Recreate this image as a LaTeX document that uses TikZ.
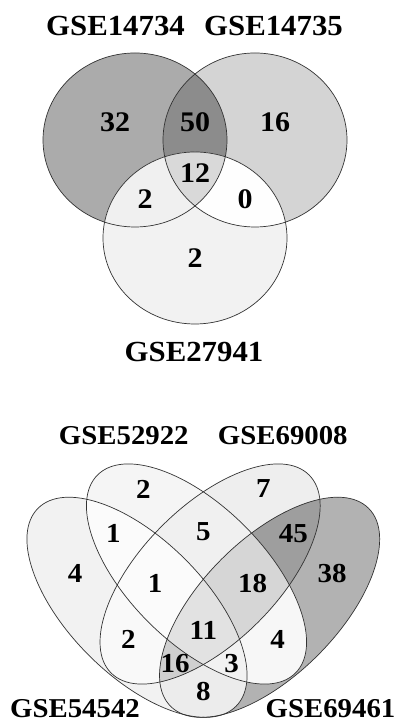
\documentclass[tikz,border=0pt]{standalone}
\usepackage{fontspec}
\setmainfont{Liberation Serif}

% region shades, top diagram
\definecolor{tA}{gray}{0.67}
\definecolor{tB}{gray}{0.83}
\definecolor{tC}{gray}{0.95}
\definecolor{tAB}{gray}{0.55}
\definecolor{tAC}{gray}{0.94}
\definecolor{tBC}{gray}{0.995}
\definecolor{tABC}{gray}{0.85}
% region shades, bottom diagram
\definecolor{qA}{gray}{0.95}
\definecolor{qB}{gray}{0.96}
\definecolor{qC}{gray}{0.935}
\definecolor{qD}{gray}{0.70}
\definecolor{qAB}{gray}{0.985}
\definecolor{qAC}{gray}{0.975}
\definecolor{qAD}{gray}{0.925}
\definecolor{qBC}{gray}{0.94}
\definecolor{qBD}{gray}{0.97}
\definecolor{qCD}{gray}{0.62}
\definecolor{qABC}{gray}{0.985}
\definecolor{qABD}{gray}{0.95}
\definecolor{qACD}{gray}{0.81}
\definecolor{qBCD}{gray}{0.84}
\definecolor{qABCD}{gray}{0.885}

\newcommand\squash[1]{\scalebox{1}[0.946]{#1}}

% the three circles
\newcommand\vennCa[1]{\path[#1] (135,583) ellipse [x radius=92, y radius=87];}
\newcommand\vennCb[1]{\path[#1] (255,583) ellipse [x radius=92, y radius=87];}
\newcommand\vennCc[1]{\path[#1] (195,485) ellipse [x radius=92, y radius=86];}
% the four ellipses
\newcommand\vennEa[1]{\path[#1, rotate around={-45:(137,115.7)}] (137,115.7) ellipse [x radius=140, y radius=68];}
\newcommand\vennEb[1]{\path[#1, rotate around={-45:(196.5,149)}] (196.5,149) ellipse [x radius=140, y radius=68];}
\newcommand\vennEc[1]{\path[#1, rotate around={45:(210.1,149)}] (210.1,149) ellipse [x radius=140, y radius=68];}
\newcommand\vennEd[1]{\path[#1, rotate around={45:(269.6,115.7)}] (269.6,115.7) ellipse [x radius=140, y radius=68];}

\begin{document}
\begin{tikzpicture}[x=1pt, y=1pt,
  outline/.style={draw=black!80, line width=0.7pt},
  setlabel/.style={inner sep=0pt, anchor=base, font=\fontsize{30.8}{31}\selectfont\bfseries},
  setlabelb/.style={inner sep=0pt, anchor=base, font=\fontsize{28.8}{29}\selectfont\bfseries},
  count/.style={inner sep=0pt, font=\fontsize{30}{30}\selectfont\bfseries},
  countb/.style={inner sep=0pt, font=\fontsize{29}{29}\selectfont\bfseries}]

\useasboundingbox (0,0) rectangle (396,723);
\fill[white] (0,0) rectangle (396,723);

% ---------- three-set diagram ----------
\vennCa{fill=tA}
\vennCb{fill=tB}
\vennCc{fill=tC}
\begin{scope}\vennCa{clip}\vennCb{fill=tAB}\end{scope}
\begin{scope}\vennCa{clip}\vennCc{fill=tAC}\end{scope}
\begin{scope}\vennCb{clip}\vennCc{fill=tBC}\end{scope}
\begin{scope}\vennCa{clip}\vennCb{clip}\vennCc{fill=tABC}\end{scope}
\vennCa{outline}
\vennCb{outline}
\vennCc{outline}

\node[setlabel] (lab14734) at (115.5,687) {\squash{GSE14734}};
\node[setlabel] (lab14735) at (273.5,687) {\squash{GSE14735}};
\node[setlabel] (lab27941) at (194,361) {\squash{GSE27941}};

\node[count] (nA)   at (115,600.3) {\squash{32}};
\node[count] (nAB)  at (195,600.3) {\squash{50}};
\node[count] (nB)   at (275,600.3) {\squash{16}};
\node[count] (nABC) at (195,550.3) {\squash{12}};
\node[count] (nAC)  at (145,523.7) {\squash{2}};
\node[count] (nBC)  at (245,523.7) {\squash{0}};
\node[count] (nC)   at (195,464.7) {\squash{2}};

% ---------- four-set diagram ----------
\vennEa{fill=qA}
\vennEb{fill=qB}
\vennEc{fill=qC}
\vennEd{fill=qD}
\begin{scope}\vennEa{clip}\vennEb{fill=qAB}\end{scope}
\begin{scope}\vennEa{clip}\vennEc{fill=qAC}\end{scope}
\begin{scope}\vennEa{clip}\vennEd{fill=qAD}\end{scope}
\begin{scope}\vennEb{clip}\vennEc{fill=qBC}\end{scope}
\begin{scope}\vennEb{clip}\vennEd{fill=qBD}\end{scope}
\begin{scope}\vennEc{clip}\vennEd{fill=qCD}\end{scope}
\begin{scope}\vennEa{clip}\vennEb{clip}\vennEc{fill=qABC}\end{scope}
\begin{scope}\vennEa{clip}\vennEb{clip}\vennEd{fill=qABD}\end{scope}
\begin{scope}\vennEa{clip}\vennEc{clip}\vennEd{fill=qACD}\end{scope}
\begin{scope}\vennEb{clip}\vennEc{clip}\vennEd{fill=qBCD}\end{scope}
\begin{scope}\vennEa{clip}\vennEb{clip}\vennEc{clip}\vennEd{fill=qABCD}\end{scope}
\vennEa{outline}
\vennEb{outline}
\vennEc{outline}
\vennEd{outline}

\node[setlabelb] (lab52922) at (123.8,278) {\squash{GSE52922}};
\node[setlabelb] (lab69008) at (282.8,278) {\squash{GSE69008}};
\node[setlabelb] (lab54542) at (75,5.5) {\squash{GSE54542}};
\node[setlabelb] (lab69461) at (330.5,5.5) {\squash{GSE69461}};

\node[countb] (mB)    at (143.3,234) {\squash{2}};
\node[countb] (mC)    at (263.3,234) {\squash{7}};
\node[countb] (mAB)   at (113.3,189.5) {\squash{1}};
\node[countb] (mBC)   at (203.3,191.3) {\squash{5}};
\node[countb] (mCD)   at (293.3,189.5) {\squash{45}};
\node[countb] (mA)    at (75,149.7) {\squash{4}};
\node[countb] (mD)    at (332,149.7) {\squash{38}};
\node[countb] (mABC)  at (155,139.7) {\squash{1}};
\node[countb] (mBCD)  at (252.5,139.7) {\squash{18}};
\node[countb] (mAC)   at (128.3,84) {\squash{2}};
\node[countb] (mBD)   at (277.5,84) {\squash{4}};
\node[countb] (mABCD) at (203.3,93) {\squash{11}};
\node[countb] (mACD)  at (175,59) {\squash{16}};
\node[countb] (mABD)  at (231.7,59) {\squash{3}};
\node[countb] (mAD)   at (203.3,31.3) {\squash{8}};

\end{tikzpicture}
\end{document}
